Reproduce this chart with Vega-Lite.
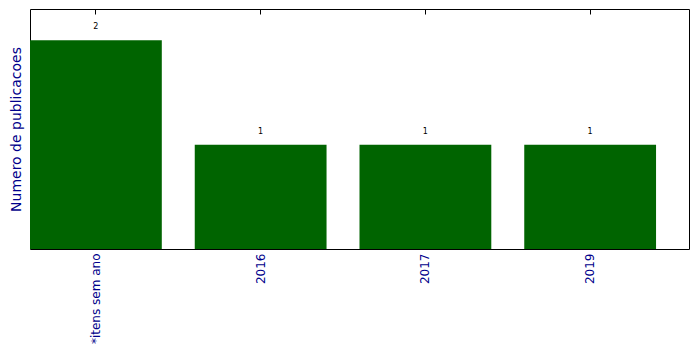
{
  "$schema": "https://vega.github.io/schema/vega-lite/v6.json",
  "width": 659,
  "height": 240,
  "autosize": "none",
  "padding": {"left": 30, "top": 9, "right": 10, "bottom": 100},
  "background": "white",
  "config": {"view": {"stroke": "black", "strokeWidth": 1}, "font": "DejaVu Sans"},
  "data": {"values": [
    {"ano": "*itens sem ano", "n": 2},
    {"ano": "2016", "n": 1},
    {"ano": "2017", "n": 1},
    {"ano": "2019", "n": 1}
  ]},
  "encoding": {
    "y": {"field": "n", "type": "quantitative", "scale": {"domain": [0, 2.3], "nice": false},
      "axis": {"title": "Numero de publicacoes", "ticks": false, "labels": false, "domain": false, "grid": false,
        "titleColor": "#00008B", "titleFontSize": 14, "titleFontWeight": "normal", "titlePadding": 7, "titleFont": "DejaVu Sans"}}
  },
  "layer": [
    {"mark": {"type": "bar", "color": "#006400"},
     "encoding": {"x": {"field": "ano", "type": "nominal", "sort": null,
        "scale": {"paddingInner": 0.2, "paddingOuter": 0.1, "align": 0},
        "axis": {"orient": "bottom", "labelAngle": -90, "title": null, "tickSize": -5, "tickColor": "black", "domain": false,
          "labelColor": "#00008B", "labelFontSize": 12, "grid": false, "labelPadding": 9, "labelFont": "DejaVu Sans"}}}},
    {"mark": {"type": "text", "baseline": "middle", "dy": -13, "fontSize": 8, "color": "black"},
     "encoding": {"text": {"field": "n"},
       "x": {"field": "ano", "type": "nominal", "sort": null,
        "axis": {"orient": "top", "labels": false, "title": null, "tickSize": -5, "tickColor": "black", "domain": false, "grid": false}}}}
  ]
}
